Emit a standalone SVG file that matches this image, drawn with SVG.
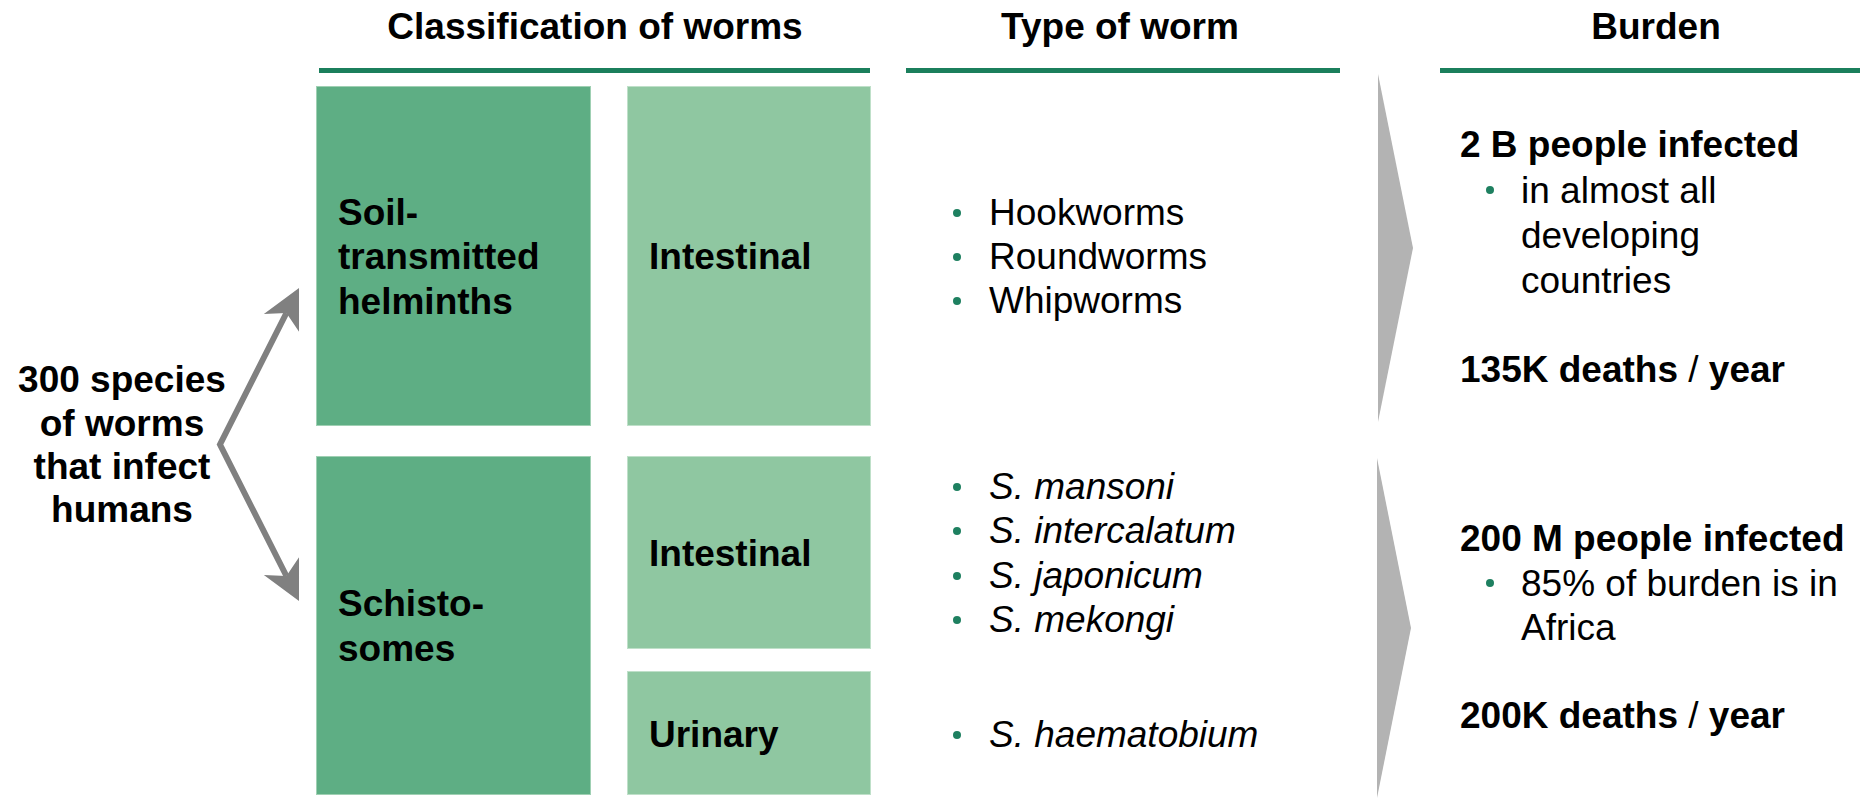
<svg xmlns="http://www.w3.org/2000/svg" width="1863" height="802" viewBox="0 0 1863 802">
<style>
text{font-family:"Liberation Sans",Arial,Helvetica,sans-serif;font-size:37px;fill:#000}
.b{font-weight:bold}
.n{font-weight:normal}
.i{font-style:italic}
.hdr{font-weight:bold;text-anchor:middle}
.rule{fill:#1b7f5c}
.dark{fill:#5eae84;stroke:#9fd0b3;stroke-width:1}
.light{fill:#8fc7a1;stroke:#bfe0c9;stroke-width:1}
.dot{fill:#1e8060}
.chev{fill:#b3b3b3}
</style>
<defs>
<marker id="ah" markerUnits="userSpaceOnUse" viewBox="-41 -22 43 44" refX="-28" refY="0" markerWidth="43" markerHeight="44" orient="auto-start-reverse">
<path d="M0,0 L-39,-19.7 L-28,0 L-39,19.7 Z" fill="#808080"/>
</marker>
</defs>

<g id="headers">
<text class="hdr" x="595" y="39">Classification of worms</text>
<text class="hdr" x="1120" y="39">Type of worm</text>
<text class="hdr" x="1656" y="39">Burden</text>
<rect class="rule" x="319" y="68" width="551" height="5"/>
<rect class="rule" x="906" y="68" width="434" height="5"/>
<rect class="rule" x="1440" y="68" width="420" height="5"/>
</g>

<g id="source">
<text class="b" text-anchor="middle" x="122" y="392">300 species</text>
<text class="b" text-anchor="middle" x="122" y="436">of worms</text>
<text class="b" text-anchor="middle" x="122" y="479">that infect</text>
<text class="b" text-anchor="middle" x="122" y="522">humans</text>
</g>

<g id="connectors">
<path d="M286.4,313 L220,444.5 L286.4,576" fill="none" stroke="#808080" stroke-width="6" stroke-linejoin="miter" marker-start="url(#ah)" marker-end="url(#ah)"/>
<polygon class="chev" points="1378,74 1413,248 1378,422"/>
<polygon class="chev" points="1377,458 1411,628 1377,798"/>
</g>

<g id="soil">
<rect class="dark" x="316.5" y="86.5" width="274" height="339"/>
<text class="b" x="338" y="225">Soil-</text>
<text class="b" x="338" y="269">transmitted</text>
<text class="b" x="338" y="314">helminths</text>
</g>

<g id="soil-intestinal">
<rect class="light" x="627.5" y="86.5" width="243" height="339"/>
<text class="b" x="649" y="269">Intestinal</text>
</g>

<g id="schisto">
<rect class="dark" x="316.5" y="456.5" width="274" height="338"/>
<text class="b" x="338" y="616">Schisto-</text>
<text class="b" x="338" y="661">somes</text>
</g>

<g id="schisto-intestinal">
<rect class="light" x="627.5" y="456.5" width="243" height="192"/>
<text class="b" x="649" y="566">Intestinal</text>
</g>

<g id="schisto-urinary">
<rect class="light" x="627.5" y="671.5" width="243" height="123"/>
<text class="b" x="649" y="747">Urinary</text>
</g>

<g id="types-soil">
<circle class="dot" cx="957" cy="213" r="4"/>
<text x="989" y="225">Hookworms</text>
<circle class="dot" cx="957" cy="257" r="4"/>
<text x="989" y="269">Roundworms</text>
<circle class="dot" cx="957" cy="301" r="4"/>
<text x="989" y="313">Whipworms</text>
</g>

<g id="types-schisto">
<circle class="dot" cx="957" cy="487" r="4"/>
<text class="i" x="989" y="499">S. mansoni</text>
<circle class="dot" cx="957" cy="531" r="4"/>
<text class="i" x="989" y="543">S. intercalatum</text>
<circle class="dot" cx="957" cy="576" r="4"/>
<text class="i" x="989" y="588">S. japonicum</text>
<circle class="dot" cx="957" cy="620" r="4"/>
<text class="i" x="989" y="632">S. mekongi</text>
<circle class="dot" cx="957" cy="735" r="4"/>
<text class="i" x="989" y="747">S. haematobium</text>
</g>

<g id="burden-soil">
<text class="b" x="1460" y="157">2 B people infected</text>
<circle class="dot" cx="1490" cy="190" r="4"/>
<text x="1521" y="203">in almost all</text>
<text x="1521" y="248">developing</text>
<text x="1521" y="293">countries</text>
<text class="b" x="1460" y="382">135K deaths <tspan class="n">/</tspan> year</text>
</g>

<g id="burden-schisto">
<text class="b" x="1460" y="551">200 M people infected</text>
<circle class="dot" cx="1490" cy="583" r="4"/>
<text x="1521" y="596">85% of burden is in</text>
<text x="1521" y="640">Africa</text>
<text class="b" x="1460" y="728">200K deaths <tspan class="n">/</tspan> year</text>
</g>
</svg>
